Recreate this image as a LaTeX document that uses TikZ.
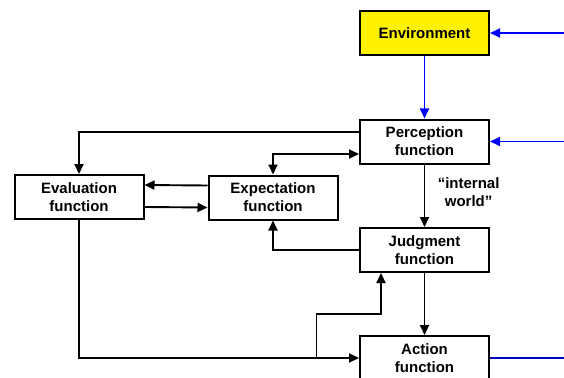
\documentclass[tikz,border=0pt]{standalone}
\usepackage{fontspec}
\setmainfont{Liberation Sans}
\usetikzlibrary{arrows.meta}
\begin{document}
\begin{tikzpicture}[x=1pt,y=-1pt,
  box/.style={draw, line width=2pt, minimum width=129pt, minimum height=44pt,
    align=center, inner sep=0pt, font=\bfseries\fontsize{15}{18}\selectfont},
  tip/.style={-{Triangle[length=10pt,width=9pt]}},
  link/.style={line width=1.9pt, tip},
  feed/.style={draw=blue, line width=1.9pt},
  lbl/.style={align=center, font=\bfseries\fontsize{15}{18}\selectfont}]
\useasboundingbox (0,0) rectangle (564,377);

% function blocks
\node[box, fill=yellow] (env)  at (424.5,33)    {Environment};
\node[box]              (perc) at (424.5,141.5) {Perception\\function};
\node[box]              (eval) at (79,197)      {Evaluation\\function};
\node[box]              (expt) at (273,197.5)   {Expectation\\function};
\node[box]              (judg) at (424.5,250)   {Judgment\\function};
\node[box]              (act)  at (424.5,358)   {Action\\function};

% outside world
\coordinate (envIn)  at (564,33);
\coordinate (percIn) at (564,141.5);
\coordinate (actOut) at (564,358);
\draw[feed, tip] (envIn) -- (env.east);
\draw[feed, tip] (percIn) -- (perc.east);
\draw[feed, tip] (env.south) -- (perc.north);
\draw[feed, draw=blue!75!black] (act.east) -- (actOut);

% internal links
\draw[link] ([yshift=9.5pt]perc.west) -| (eval.north);
\draw[line width=1.9pt, {Triangle[length=10pt,width=9pt]}-{Triangle[length=10pt,width=9pt]}]
  (expt.north) |- ([yshift=-12.5pt]perc.west);
\draw[link] ([yshift=12pt]expt.west) -- ([yshift=12pt]eval.east);
\draw[link] ([yshift=-10pt]eval.east) -- ([yshift=-10pt]expt.west);
\draw[link] (perc.south) -- node[lbl, right=9pt, pos=0.45] {“internal\\world”} (judg.north);
\draw[link] (judg.west) -| (expt.south);
\draw[link] (judg.south) -- (act.north);
\draw[link] (eval.south) |- (act.west);
\coordinate (br)   at (316.5,358);
\coordinate (knee) at (381,314);
\draw[link] (br) |- (knee) -- ([xshift=-43.5pt]judg.south);
\end{tikzpicture}
\end{document}
